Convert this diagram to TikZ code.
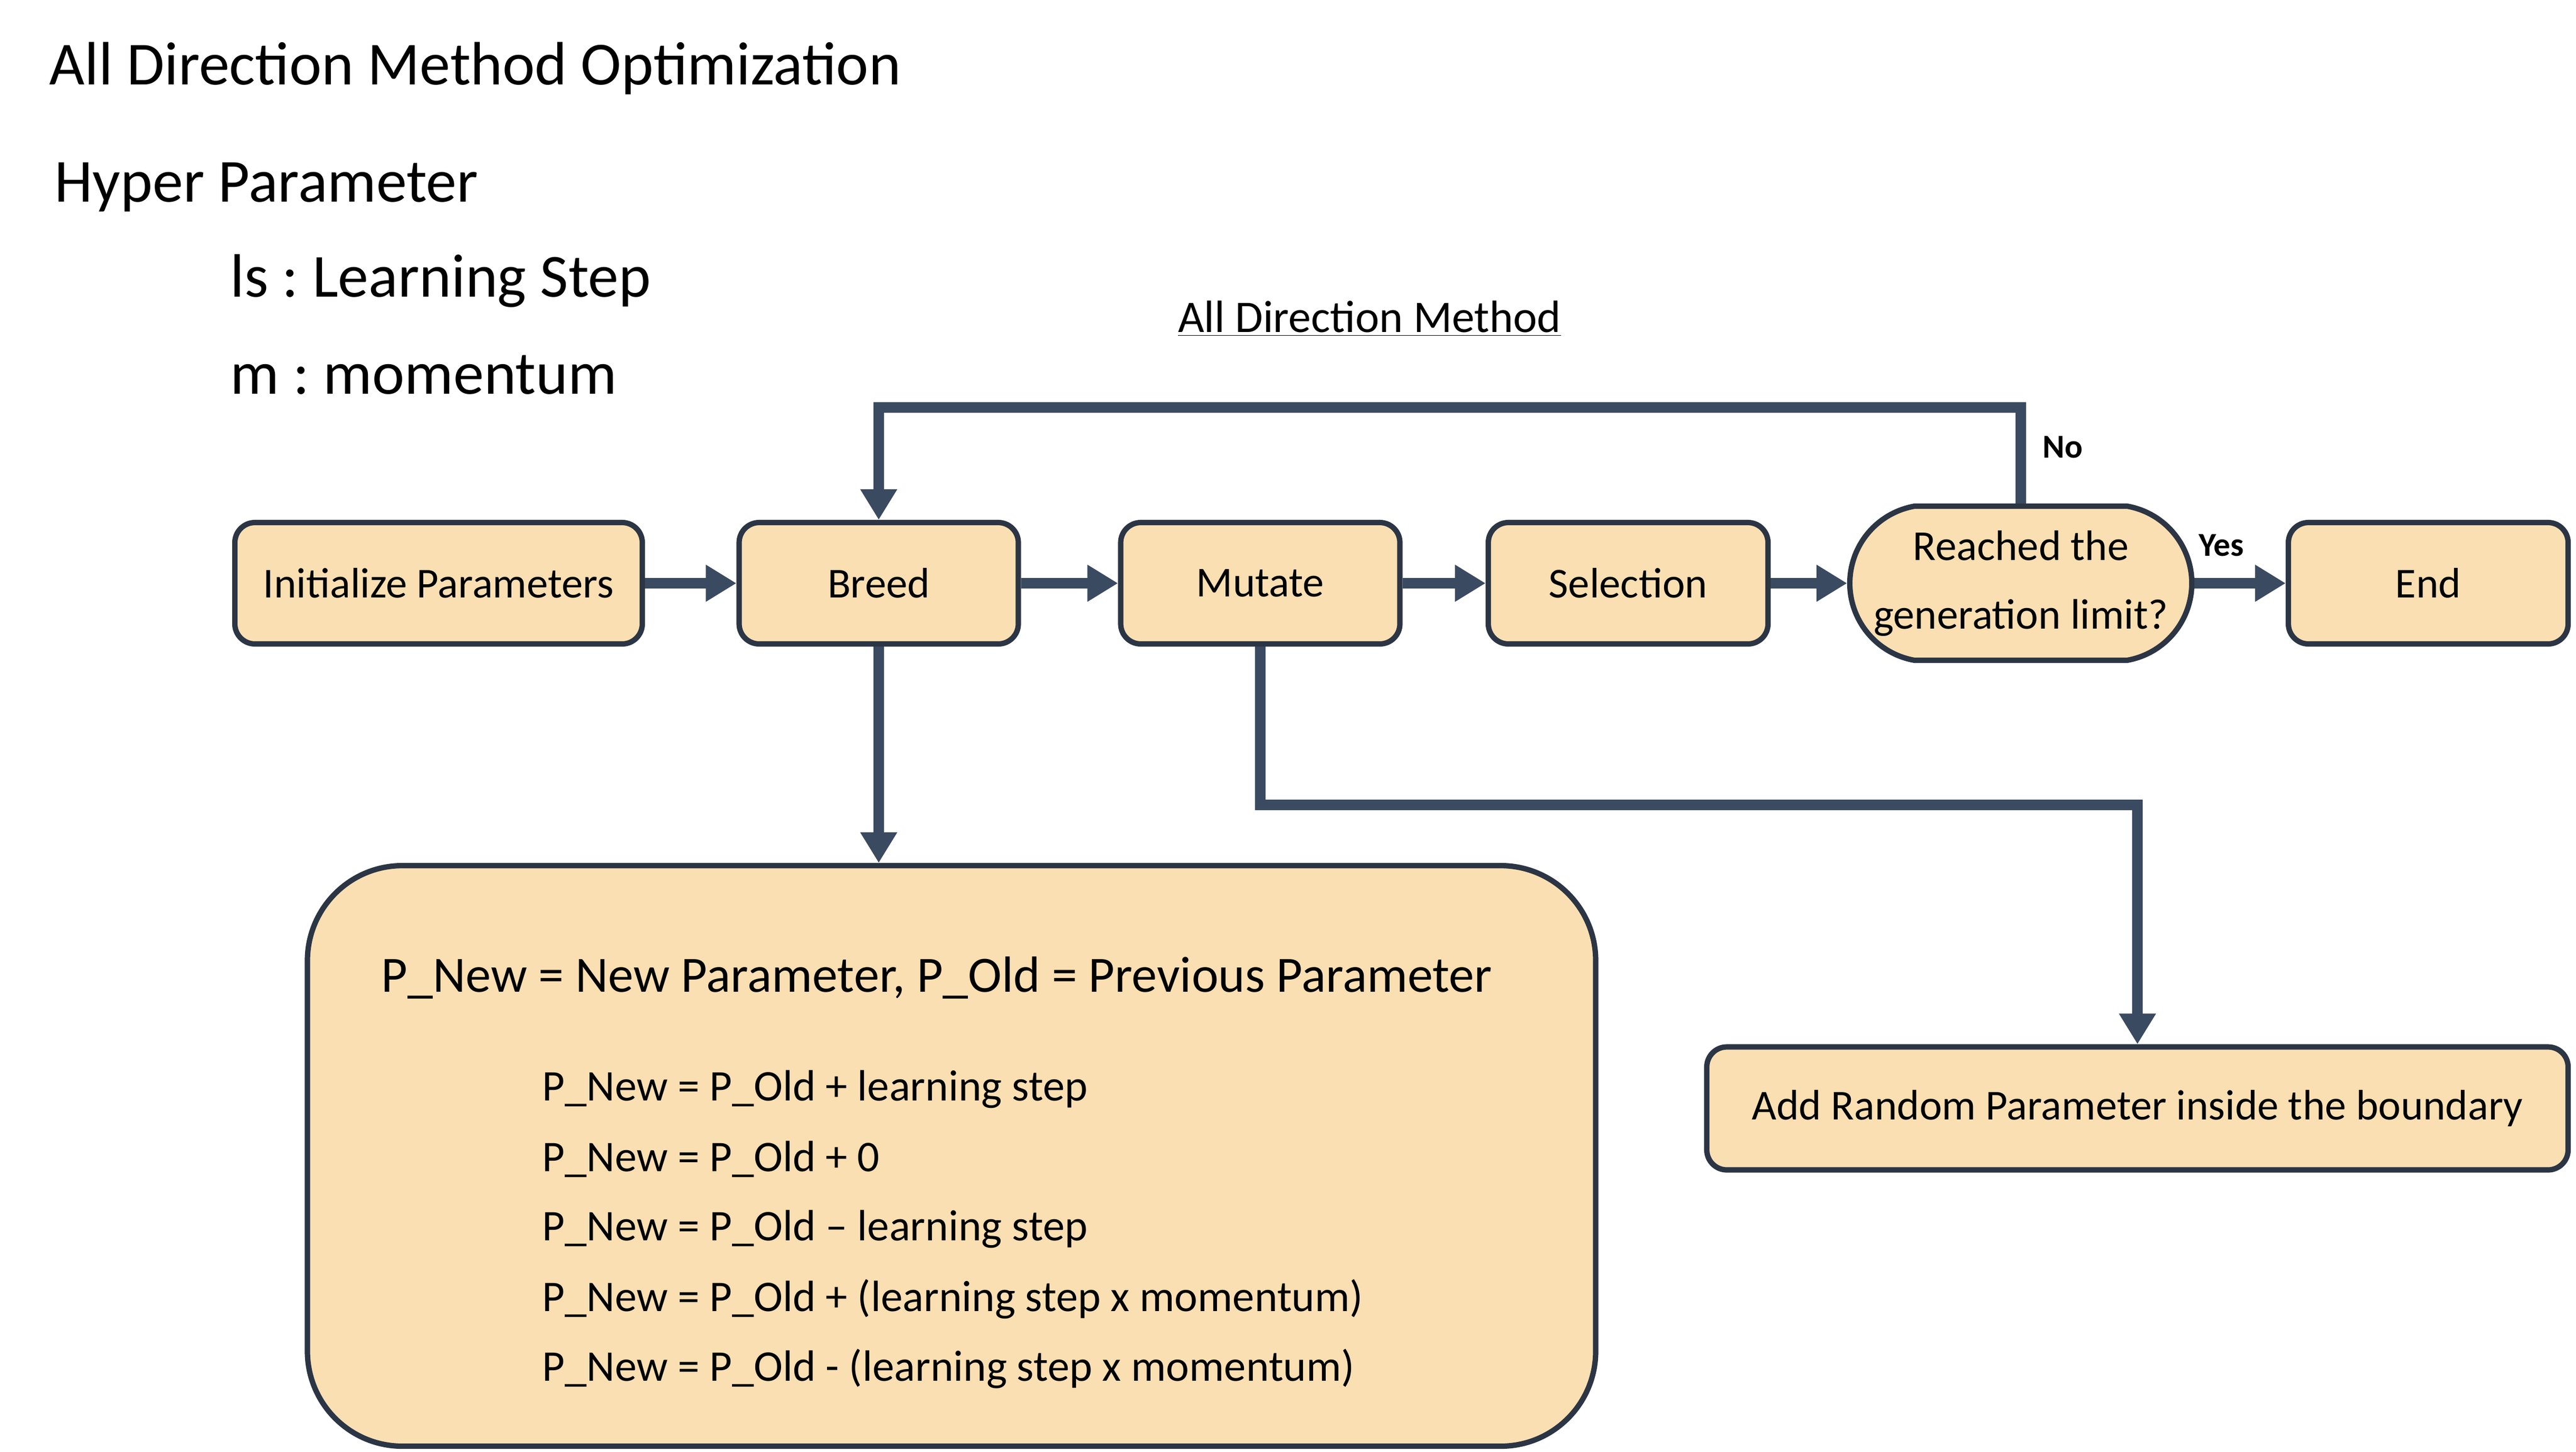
\documentclass[tikz,border=0pt]{standalone}
\usepackage{fontspec}
\setmainfont{Carlito}
\frenchspacing
\usetikzlibrary{arrows.meta,shapes.misc}
\definecolor{boxfill}{HTML}{FADFB3}
\definecolor{boxline}{HTML}{2B3544}
\definecolor{flowline}{HTML}{3A4A60}
\tikzset{
	stage/.style={draw=boxline, fill=boxfill, line width=2.9pt, rounded corners=0.38cm, minimum height=2.3cm, inner sep=0pt, font=\fontsize{23}{28}\selectfont},
	check/.style={rounded rectangle, rounded rectangle arc length=160, draw=boxline, fill=boxfill, line width=2.9pt, minimum width=6.48cm, minimum height=2.92cm, inner sep=0pt, align=center, font=\fontsize{23}{37}\selectfont},
	panel/.style={draw=boxline, fill=boxfill, line width=2.9pt, rounded corners=1.8cm, inner sep=0pt},
	flow/.style={draw=flowline, line width=5.6pt, -{Triangle[length=0.58cm,width=0.66cm]}},
	heading/.style={anchor=west, inner sep=0pt, font=\fontsize{33}{40}\selectfont},
	rule/.style={anchor=west, inner sep=0pt, font=\fontsize{23.6}{28}\selectfont},
	answer/.style={inner sep=0pt, font=\fontsize{18}{22}\selectfont\bfseries}
}

\begin{document}
\begin{tikzpicture}
			%%%%% START %%%%%
			
			\fill[white] (0, 0) rectangle (48.81, -27.5);
			\useasboundingbox (0, 0) rectangle (48.81, -27.5);
			
			\node[heading] (title) at (0.93, -1.30) {All Direction Method Optimization};
			\node[heading] (hyper) at (1.03, -3.55) {Hyper Parameter};
			\node[heading] (lstep) at (4.36, -5.32) {ls : Learning Step};
			\node[heading] (mom) at (4.36, -7.10) {m : momentum};
			
			\node[inner sep=0pt, font=\fontsize{24.4}{28}\selectfont] (method) at (25.95, -6.04) {\underline{All Direction Method}};
			
			\node[stage, minimum width=7.72cm] (init) at (8.31, -11.05) {Initialize Parameters};
			\node[stage, minimum width=5.29cm] (breed) at (16.65, -11.05) {Breed};
			\node[stage, minimum width=5.29cm] (mutate) at (23.88, -11.05) {Mutate};
			\node[stage, minimum width=5.30cm] (select) at (30.85, -11.05) {Selection};
			\node[check] (limit) at (38.29, -11.05) {Reached the\\generation limit?};
			\node[stage, minimum width=5.30cm] (finish) at (46.01, -11.05) {End};
			
			\node[panel, minimum width=24.41cm, minimum height=11.0cm] (rules) at (18.03, -21.90) {};
			\node[anchor=west, inner sep=0pt, font=\fontsize{27.4}{32}\selectfont] (legend) at (7.22, -18.52) {P\_New = New Parameter, P\_Old = Previous Parameter};
			\node[rule] (ruleA) at (10.27, -20.64) {P\_New = P\_Old + learning step};
			\node[rule] (ruleB) at (10.27, -21.96) {P\_New = P\_Old + 0};
			\node[rule] (ruleC) at (10.27, -23.29) {P\_New = P\_Old – learning step};
			\node[rule] (ruleD) at (10.27, -24.61) {P\_New = P\_Old + (learning step x momentum)};
			\node[rule] (ruleE) at (10.27, -25.93) {P\_New = P\_Old - (learning step x momentum)};
			
			\node[stage, minimum width=16.32cm, minimum height=2.33cm] (addrand) at (40.50, -21.00) {Add Random Parameter inside the boundary};
			
			\draw[flow] (init) -- (breed);
			\draw[flow] (breed) -- (mutate);
			\draw[flow] (mutate) -- (select);
			\draw[flow] (select) -- (limit);
			\draw[flow] (limit) -- (finish);
			
			\coordinate (looptop) at (38.29, -7.72);
			\draw[flow] (limit.north) -- (looptop) -| (breed.north);
			
			\draw[flow] (breed.south) -- (breed.south |- rules.north);
			
			\coordinate (mturn) at (40.50, -15.25);
			\draw[flow] (mutate.south) |- (mturn) -- (addrand.north);
			
			\node[answer, anchor=west] (no) at (38.70, -8.47) {No};
			\node[answer] (yes) at (42.09, -10.33) {Yes};
			
			%%%%% END %%%%%
\end{tikzpicture}
\end{document}
